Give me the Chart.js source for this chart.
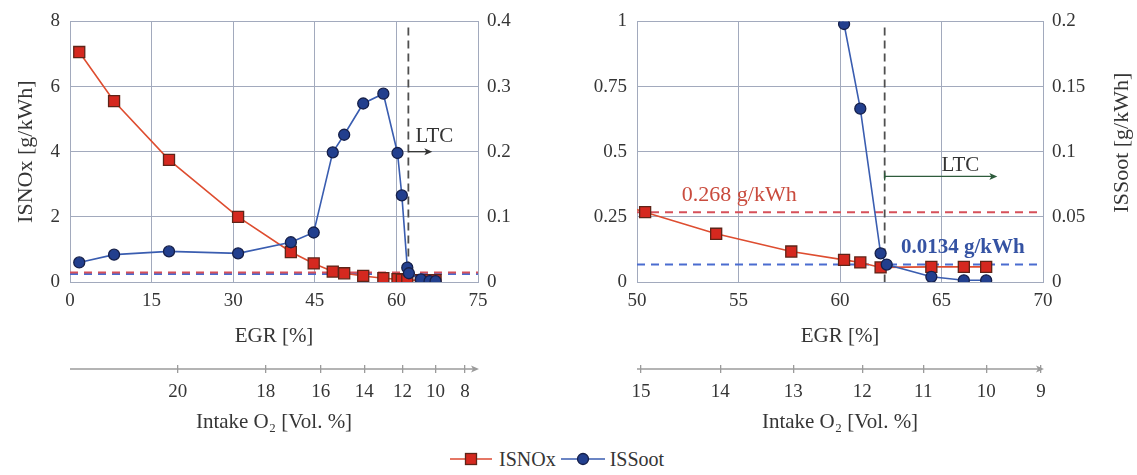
<!DOCTYPE html>
<html>
<head>
<meta charset="utf-8">
<script src="https://cdn.jsdelivr.net/npm/chart.js@4.4.1/dist/chart.umd.min.js"></script>
<style>
  html, body { margin: 0; padding: 0; background: #ffffff; }
  body { width: 1137px; height: 475px; position: relative; overflow: hidden; font-family: 'Liberation Serif', serif; }
  canvas { position: absolute; top: 0; }
  #cLeft { left: 0; }
  #cRight { left: 560px; }
  #legend { position: absolute; top: 447px; left: 450px; height: 24px; display: flex; align-items: center;
            font-family: 'Liberation Serif', serif; font-size: 20px; color: #353535; white-space: nowrap; }
  #legend svg { display: block; }
</style>
</head>
<body>
<canvas id="cLeft" width="560" height="440"></canvas>
<canvas id="cRight" width="577" height="440"></canvas>
<div id="legend">
  <svg width="42" height="16"><line x1="0" y1="8" x2="42" y2="8" stroke="#dc4a32" stroke-width="1.6"/><rect x="15.5" y="2.5" width="11" height="11" fill="#d5281f" stroke="#5e2418" stroke-width="1.3"/></svg>
  <span style="margin-left:7px;margin-right:5px">ISNOx</span>
  <svg width="44" height="16"><line x1="0" y1="8" x2="44" y2="8" stroke="#3a5db0" stroke-width="1.6"/><circle cx="22" cy="8" r="5.5" fill="#223f8e" stroke="#16204a" stroke-width="1.3"/></svg>
  <span style="margin-left:5px">ISSoot</span>
</div>
<script>
// ---- measured operating points (EGR sweep) ----
const egrPct = [1.7, 8.1, 18.2, 30.9, 40.6, 44.8, 48.3, 50.4, 53.9, 57.6, 60.2, 61.0, 62.0, 62.3, 64.5, 66.1, 67.2];
const isNOx  = [7.06, 5.55, 3.75, 2.0, 0.92, 0.57, 0.32, 0.268, 0.185, 0.117, 0.085, 0.075, 0.056, null, 0.058, 0.058, 0.058];
const isSoot = [0.030, 0.042, 0.047, 0.044, 0.061, 0.076, 0.199, 0.226, 0.274, 0.289, 0.198, 0.133, 0.022, 0.0134, 0.004, 0.0013, 0.0013];

// ---- reference levels ----
const noxLimit = 0.268;    // g/kWh
const sootLimit = 0.0134;  // g/kWh
const ltcBoundary = 62.2;  // EGR % where low temperature combustion begins

// ---- intake O2 concentration vs. EGR rate ----
const o2Levels = [20, 18, 16, 15, 14, 13, 12, 11, 10, 9, 8];
const egrAtO2  = [19.8, 36.0, 46.1, 50.2, 54.1, 57.7, 61.1, 64.1, 67.2, 69.9, 72.6];
const o2TicksLeft  = [20, 18, 16, 14, 12, 10, 8];
const o2TicksRight = [15, 14, 13, 12, 11, 10, 9];

// ---- axis ranges ----
const egrRangeLeft  = [0, 75, 15];
const egrRangeRight = [50, 70, 5];
const noxRangeLeft  = [0, 8, 2];
const noxRangeRight = [0, 1, 0.25];
const sootRangeLeft  = [0, 0.4, 0.1];
const sootRangeRight = [0, 0.2, 0.05];

const FONT = 'Liberation Serif';
const TXT = '#353535';
const GRID = '#a2aabd';
const NOX_LINE = '#de4d30', NOX_FILL = '#d5281f', NOX_EDGE = '#5e2418';
const SOOT_LINE = '#3a5db0', SOOT_FILL = '#223f8e', SOOT_EDGE = '#16204a';
const O2_TICK = 8;

const fmt = v => String(Number(v.toFixed(4)));

function arrowHead(ctx, x, y, color) {
  ctx.save();
  ctx.fillStyle = color;
  ctx.beginPath();
  ctx.moveTo(x, y);
  ctx.lineTo(x - 8, y - 3.5);
  ctx.lineTo(x - 6, y);
  ctx.lineTo(x - 8, y + 3.5);
  ctx.closePath();
  ctx.fill();
  ctx.restore();
}

// dashed limits, LTC boundary, secondary O2 axis line and annotations
const decor = {
  id: 'decor',
  beforeDatasetsDraw(chart, _a, o) {
    const { ctx, chartArea: a, scales: { x, y, y1 } } = chart;
    ctx.save();
    ctx.beginPath(); ctx.rect(a.left, a.top, a.width, a.height); ctx.clip();
    const hline = (py, color, dy) => {
      ctx.strokeStyle = color; ctx.lineWidth = 2; ctx.setLineDash([8, 6]);
      ctx.beginPath(); ctx.moveTo(a.left, py + dy); ctx.lineTo(a.right, py + dy); ctx.stroke();
    };
    const py1 = y1.getPixelForValue(sootLimit);
    const py0 = y.getPixelForValue(noxLimit);
    // where both limits share a pixel row, show them as a two-tone dash
    const shared = Math.abs(py1 - py0) < 2;
    hline(py1, '#4a6cd0', shared ? 0.8 : 0);
    hline(py0, '#d6505a', shared ? -0.8 : 0);
    const xb = x.getPixelForValue(ltcBoundary);
    ctx.strokeStyle = '#4f4f4f'; ctx.lineWidth = 1.8; ctx.setLineDash([8, 5]);
    ctx.beginPath(); ctx.moveTo(xb, a.top + 6); ctx.lineTo(xb, a.bottom); ctx.stroke();
    ctx.restore();
  },
  afterDraw(chart, _a, o) {
    const { ctx, chartArea: a, scales: { x, y, xO2 } } = chart;
    ctx.save();
    // intake O2 axis line with arrow
    const ly = xO2.top + O2_TICK / 2;
    ctx.strokeStyle = '#9b9b9b'; ctx.lineWidth = 1.3;
    ctx.beginPath(); ctx.moveTo(a.left, ly); ctx.lineTo(a.right - 2, ly); ctx.stroke();
    arrowHead(ctx, a.right + 1, ly, '#9b9b9b');

    // LTC region marker
    const l = o.ltc;
    const x0 = x.getPixelForValue(ltcBoundary);
    const x1 = x.getPixelForValue(l.arrowTo);
    const ay = y.getPixelForValue(l.arrowAt);
    ctx.strokeStyle = l.color; ctx.lineWidth = 1.3;
    ctx.beginPath(); ctx.moveTo(x0, ay); ctx.lineTo(x1 - 4, ay); ctx.stroke();
    if (l.startBar) { ctx.beginPath(); ctx.moveTo(x0, ay - 4); ctx.lineTo(x0, ay + 4); ctx.stroke(); }
    arrowHead(ctx, x1, ay, l.color);
    ctx.fillStyle = l.textColor;
    ctx.font = `21px "${FONT}"`;
    ctx.textAlign = 'center'; ctx.textBaseline = 'alphabetic';
    ctx.fillText('LTC', x.getPixelForValue(l.textAt), y.getPixelForValue(l.textLevel));

    // limit value labels
    if (o.labels) {
      ctx.font = `22px "${FONT}"`;
      ctx.fillStyle = '#c94b3d';
      ctx.fillText(noxLimit + ' g/kWh', x.getPixelForValue(o.labels.nox[0]), y.getPixelForValue(o.labels.nox[1]));
      ctx.font = `bold 21px "${FONT}"`;
      ctx.fillStyle = '#3553a3';
      ctx.fillText(sootLimit + ' g/kWh', x.getPixelForValue(o.labels.soot[0]), y.getPixelForValue(o.labels.soot[1]));
    }

    // right-hand axis title, reading upwards
    if (o.sootTitle) {
      ctx.font = `22px "${FONT}"`;
      ctx.fillStyle = TXT;
      ctx.translate(chart.scales.y1.right - 15, (a.top + a.bottom) / 2 - 9);
      ctx.rotate(-Math.PI / 2);
      ctx.textAlign = 'center'; ctx.textBaseline = 'middle';
      ctx.fillText('ISSoot [g/kWh]', 0, 0);
    }
    ctx.restore();
  }
};

function tickFont() { return { family: FONT, size: 19 }; }
function titleFont(size) { return { family: FONT, size: size || 21 }; }

function buildPanel(id, p) {
  const o2Shown = p.o2;
  const o2Pos = o2Shown.map(v => egrAtO2[o2Levels.indexOf(v)]);
  return new Chart(document.getElementById(id), {
    type: 'line',
    data: {
      labels: egrPct,
      datasets: [
        {
          label: 'ISSoot', yAxisID: 'y1', order: 0,
          data: egrPct.map((e, i) => ({ x: e, y: isSoot[i] })),
          borderColor: SOOT_LINE, borderWidth: 1.6,
          pointStyle: 'circle', pointRadius: 5.5, pointBackgroundColor: SOOT_FILL,
          pointBorderColor: SOOT_EDGE, pointBorderWidth: 1.3, tension: 0
        },
        {
          label: 'ISNOx', yAxisID: 'y', order: 1, spanGaps: true,
          data: egrPct.map((e, i) => ({ x: e, y: isNOx[i] })),
          borderColor: NOX_LINE, borderWidth: 1.6,
          pointStyle: 'rect', pointRadius: 7.8, pointBackgroundColor: NOX_FILL,
          pointBorderColor: NOX_EDGE, pointBorderWidth: 1.3, tension: 0
        }
      ]
    },
    options: {
      responsive: false, animation: false, devicePixelRatio: 1,
      layout: { padding: { top: 14, bottom: 3, left: 0, right: 0 } },
      plugins: {
        legend: { display: false }, tooltip: { enabled: false },
        decor: { ltc: p.ltc, labels: p.labels, sootTitle: p.sootTitle }
      },
      scales: {
        x: {
          type: 'linear', position: 'bottom', weight: 0,
          min: p.egr[0], max: p.egr[1],
          ticks: { stepSize: p.egr[2], font: tickFont(), color: TXT, padding: 8, maxRotation: 0, callback: fmt },
          grid: { color: GRID, drawTicks: false, lineWidth: 1 },
          border: { color: GRID },
          title: { display: true, text: 'EGR [%]', font: titleFont(), color: TXT, padding: { top: 0, bottom: 16 } },
          afterFit(s) { s.height = 83; }
        },
        xO2: {
          type: 'linear', position: 'bottom', weight: 1,
          min: p.egr[0], max: p.egr[1],
          afterBuildTicks(s) { s.ticks = o2Pos.map(v => ({ value: v })); },
          ticks: {
            autoSkip: false, maxRotation: 0, font: tickFont(), color: TXT, padding: 8,
            callback: (v, i) => String(o2Shown[i])
          },
          grid: { display: true, drawOnChartArea: false, drawTicks: true, tickLength: O2_TICK, color: '#9b9b9b', lineWidth: 1.3 },
          border: { display: false },
          title: { display: true, text: 'Intake O\u2082 [Vol. %]', font: titleFont(), color: TXT, padding: { top: 0, bottom: 2 } },
          afterFit(s) { s.height = 72; }
        },
        y: {
          type: 'linear', position: 'left',
          min: p.nox[0], max: p.nox[1],
          ticks: { stepSize: p.nox[2], font: tickFont(), color: TXT, padding: 10, callback: fmt },
          grid: { color: GRID, drawTicks: false, lineWidth: 1 },
          border: { color: GRID },
          title: { display: p.noxTitle, text: 'ISNOx [g/kWh]', font: titleFont(22), color: TXT, padding: { top: 13, bottom: 0 } },
          afterFit(s) { s.width = p.yWidth; }
        },
        y1: {
          type: 'linear', position: 'right',
          min: p.soot[0], max: p.soot[1],
          ticks: { stepSize: p.soot[2], font: tickFont(), color: TXT, padding: 9, callback: fmt },
          grid: { drawOnChartArea: false, drawTicks: false },
          border: { color: GRID },
          afterFit(s) { s.width = p.y1Width; }
        }
      }
    },
    plugins: [decor]
  });
}

buildPanel('cLeft', {
  egr: egrRangeLeft, nox: noxRangeLeft, soot: sootRangeLeft, o2: o2TicksLeft,
  yWidth: 70, y1Width: 82, noxTitle: true, sootTitle: false,
  ltc: { arrowTo: 66.6, arrowAt: 4.0, textAt: 67.0, textLevel: 4.31, color: '#333333', textColor: '#333333', startBar: false },
  labels: null
});

buildPanel('cRight', {
  egr: egrRangeRight, nox: noxRangeRight, soot: sootRangeRight, o2: o2TicksRight,
  yWidth: 77, y1Width: 94, noxTitle: false, sootTitle: true,
  ltc: { arrowTo: 67.75, arrowAt: 0.405, textAt: 65.93, textLevel: 0.425, color: '#2e5b3c', textColor: '#333333', startBar: true },
  labels: { nox: [55.04, 0.309], soot: [66.05, 0.111] }
});
</script>
</body>
</html>
